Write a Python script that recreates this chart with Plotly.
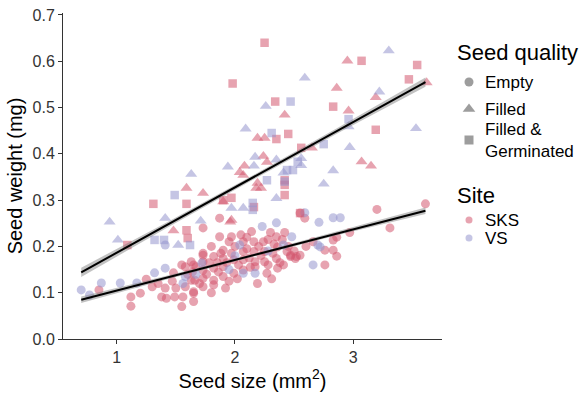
import plotly.graph_objects as go

# ---------------- data ----------------
# Empty seeds (circles)
sks_empty_x = [0.85, 1.12, 1.12, 1.20, 1.25, 1.30, 1.38, 1.41, 1.42, 1.48, 1.50, 1.49, 1.55, 1.58, 1.56, 1.55,
               1.63, 1.65, 1.63, 1.58, 1.67, 1.73, 1.65, 1.64, 1.66, 1.65, 1.65, 1.73, 1.73, 1.73, 1.73, 1.73,
               1.82, 1.82, 1.82, 1.82, 1.90, 1.90, 1.90, 1.90, 1.87, 1.97, 1.87, 1.73, 1.99, 1.99, 1.97,
               2.07, 2.07, 2.07, 2.07, 2.14, 2.16, 2.16, 2.17, 2.24, 2.25, 2.25, 2.27, 2.35, 2.36, 2.35, 2.36,
               2.44, 2.47, 2.52, 2.55, 2.55, 2.59, 2.66, 2.76, 2.83, 2.86, 2.76, 2.83, 2.86, 2.97, 3.20, 3.31,
               3.61, 2.17, 2.41, 2.47, 2.51, 2.20, 2.10, 2.30, 2.00, 1.95, 1.80, 1.78, 1.86, 1.95, 2.02, 2.12,
               2.32, 2.40, 2.28, 1.60, 1.70, 1.47, 1.35, 1.80, 1.92, 2.60, 2.19, 2.31,
               1.85, 1.88, 2.03, 2.10, 2.13, 2.22, 2.33, 2.38, 2.45, 2.50, 1.76, 1.93, 2.05, 2.28, 2.42]
sks_empty_y = [0.106, 0.091, 0.071, 0.099, 0.129, 0.113, 0.091, 0.110, 0.088, 0.143, 0.110, 0.091, 0.160, 0.113,
               0.091, 0.070, 0.127, 0.099, 0.167, 0.156, 0.156, 0.181, 0.160, 0.145, 0.127, 0.102, 0.081, 0.185,
               0.167, 0.149, 0.131, 0.113, 0.178, 0.153, 0.127, 0.117, 0.192, 0.174, 0.156, 0.135, 0.221, 0.221,
               0.261, 0.240, 0.171, 0.142, 0.185, 0.210, 0.189, 0.171, 0.149, 0.232, 0.210, 0.189, 0.167, 0.210,
               0.189, 0.167, 0.142, 0.221, 0.199, 0.174, 0.153, 0.189, 0.178, 0.178, 0.181, 0.272, 0.261, 0.210,
               0.192, 0.192, 0.179, 0.160, 0.214, 0.220, 0.230, 0.280, 0.240, 0.292, 0.156, 0.160, 0.181, 0.174,
               0.200, 0.220, 0.230, 0.200, 0.210, 0.200, 0.165, 0.145, 0.125, 0.130, 0.175, 0.185, 0.215, 0.160,
               0.140, 0.120, 0.125, 0.120, 0.100, 0.110, 0.200, 0.120, 0.130,
               0.165, 0.185, 0.160, 0.195, 0.155, 0.180, 0.205, 0.165, 0.200, 0.190, 0.140, 0.165, 0.225, 0.215,
               0.230]
vs_empty_x = [0.70, 0.77, 0.87, 1.03, 1.17, 1.32, 1.41, 1.41, 1.56, 1.58, 1.72, 1.67, 2.04, 2.07, 2.17, 2.23,
              2.35, 2.41, 2.48, 2.59, 2.66, 2.70, 2.71, 2.72, 2.83, 2.89, 2.00, 2.28, 1.95]
vs_empty_y = [0.106, 0.095, 0.121, 0.121, 0.121, 0.143, 0.153, 0.203, 0.120, 0.135, 0.164, 0.140, 0.203, 0.142,
              0.142, 0.243, 0.251, 0.203, 0.221, 0.273, 0.160, 0.203, 0.252, 0.199, 0.262, 0.262, 0.180, 0.190,
              0.150]

# Filled seeds (triangles)
sks_filled_x = [1.48, 1.59, 1.73, 1.90, 1.96, 2.04, 2.07, 2.08, 2.18, 2.22, 2.19, 2.19, 2.25, 2.24, 2.27, 2.42,
                2.65, 2.86, 2.95, 2.96, 3.07, 3.15, 3.19, 3.62, 1.97]
sks_filled_y = [0.234, 0.326, 0.315, 0.297, 0.253, 0.360, 0.354, 0.374, 0.326, 0.326, 0.337, 0.434, 0.434, 0.395,
                0.382, 0.484, 0.413, 0.542, 0.601, 0.493, 0.383, 0.374, 0.522, 0.554, 0.257]
vs_filled_x = [0.94, 1.01, 1.41, 1.52, 1.71, 1.63, 1.94, 1.97, 2.07, 2.09, 2.16, 2.17, 2.26, 2.35, 2.35, 2.41,
               2.56, 2.56, 2.59, 2.75, 2.83, 2.96, 2.97, 3.22, 3.30, 3.53]
vs_filled_y = [0.253, 0.214, 0.261, 0.203, 0.255, 0.356, 0.372, 0.283, 0.283, 0.454, 0.374, 0.393, 0.503, 0.304,
               0.387, 0.359, 0.390, 0.375, 0.564, 0.335, 0.364, 0.459, 0.414, 0.534, 0.623, 0.455]

# Filled & germinated seeds (squares)
sks_germ_x = [1.09, 1.31, 1.59, 1.59, 1.60, 1.97, 1.90, 2.16, 2.42, 2.42, 2.25, 1.98, 2.34, 2.35, 2.45, 2.56,
              2.42, 2.83, 3.07, 3.19, 3.47, 3.54, 2.55]
sks_germ_y = [0.203, 0.292, 0.292, 0.235, 0.218, 0.305, 0.300, 0.285, 0.333, 0.311, 0.640, 0.552, 0.513, 0.432,
              0.443, 0.413, 0.343, 0.502, 0.601, 0.452, 0.561, 0.592, 0.272]
vs_germ_x = [1.49, 1.32, 1.40, 1.62, 2.15, 2.15, 2.42, 2.31, 2.47, 2.44, 2.49, 2.53, 2.27, 2.75, 2.96]
vs_germ_y = [0.311, 0.214, 0.214, 0.203, 0.294, 0.279, 0.340, 0.445, 0.513, 0.365, 0.365, 0.383, 0.343, 0.421,
             0.475]

# Linear fits with standard-error band
fit_x = [0.70, 1.43, 2.16, 2.88, 3.61]
fit_upper = [0.144, 0.247, 0.350, 0.452, 0.555]
se_upper = [0.010, 0.006, 0.005, 0.006, 0.010]
fit_lower = [0.085, 0.133, 0.181, 0.229, 0.277]
se_lower = [0.007, 0.004, 0.003, 0.004, 0.007]

# Legend labels
quality_labels = ["Empty", "Filled", "Filled &<br>Germinated"]
site_labels = ["SKS", "VS"]
x_ticks = [1, 2, 3]
y_ticks = [0.0, 0.1, 0.2, 0.3, 0.4, 0.5, 0.6, 0.7]

# ---------------- styling ----------------
FONT = "Liberation Sans, Arial, sans-serif"
PINK = "rgba(212, 88, 112, 0.55)"
LAV = "rgba(150, 150, 205, 0.55)"
SYM = {"circle": 9, "triangle-up": 10.5, "square": 8.5}

fig = go.Figure()


def pts(x, y, color, symbol):
    fig.add_trace(go.Scatter(
        x=x, y=y, mode="markers", showlegend=False, hoverinfo="skip",
        marker=dict(color=color, symbol=symbol, size=SYM[symbol], line=dict(width=0)),
        xaxis="x", yaxis="y"))


pts(sks_empty_x, sks_empty_y, PINK, "circle")
pts(vs_empty_x, vs_empty_y, LAV, "circle")
pts(sks_filled_x, sks_filled_y, PINK, "triangle-up")
pts(vs_filled_x, vs_filled_y, LAV, "triangle-up")
pts(sks_germ_x, sks_germ_y, PINK, "square")
pts(vs_germ_x, vs_germ_y, LAV, "square")


def smooth(fit, se):
    lo = [f - s for f, s in zip(fit, se)]
    hi = [f + s for f, s in zip(fit, se)]
    fig.add_trace(go.Scatter(x=fit_x, y=lo, mode="lines", line=dict(width=0),
                             showlegend=False, hoverinfo="skip"))
    fig.add_trace(go.Scatter(x=fit_x, y=hi, mode="lines", line=dict(width=0), fill="tonexty",
                             fillcolor="rgba(120,120,120,0.45)", showlegend=False, hoverinfo="skip"))
    fig.add_trace(go.Scatter(x=fit_x, y=fit, mode="lines", line=dict(color="black", width=2),
                             showlegend=False, hoverinfo="skip"))


smooth(fit_upper, se_upper)
smooth(fit_lower, se_lower)

# ---------------- manual legend on a pixel-scaled helper axis ----------------
q_sym = ["circle", "triangle-up", "square"]
q_y = [82, 109, 140]
fig.add_trace(go.Scatter(x=[469] * 3, y=q_y, mode="markers", xaxis="x2", yaxis="y2",
                         showlegend=False, hoverinfo="skip",
                         marker=dict(symbol=q_sym, size=[9, 11, 9], color="rgba(90,90,90,0.85)",
                                     line=dict(width=0))))
s_y = [220, 238]
fig.add_trace(go.Scatter(x=[469] * 2, y=s_y, mode="markers", xaxis="x2", yaxis="y2",
                         showlegend=False, hoverinfo="skip",
                         marker=dict(symbol="circle", size=7, color=[PINK, LAV], line=dict(width=0))))

TS, IS = 22, 17
ann = []
ann.append(dict(x=455, y=52, text="Seed quality", font=dict(size=TS, color="black", family=FONT)))
ann.append(dict(x=483, y=82, text=quality_labels[0], font=dict(size=IS, color="black", family=FONT)))
ann.append(dict(x=483, y=109, text=quality_labels[1], font=dict(size=IS, color="black", family=FONT)))
ann.append(dict(x=483, y=140, text=quality_labels[2], font=dict(size=IS, color="black", family=FONT)))
ann.append(dict(x=455, y=195, text="Site", font=dict(size=TS, color="black", family=FONT)))
ann.append(dict(x=483, y=220, text=site_labels[0], font=dict(size=IS, color="black", family=FONT)))
ann.append(dict(x=483, y=238, text=site_labels[1], font=dict(size=IS, color="black", family=FONT)))
for a in ann:
    a.update(xref="x2", yref="y2", xanchor="left", yanchor="middle", showarrow=False, align="left")

W, H = 585, 394
L, R, T, B = 63, 0, 13, 55
panel_right = 442
dom = (panel_right - L) / (W - L - R)

fig.update_layout(
    width=W, height=H,
    margin=dict(l=L, r=R, t=T, b=B, pad=0),
    paper_bgcolor="white", plot_bgcolor="white",
    font=dict(family=FONT, color="black"),
    showlegend=False,
    annotations=ann,
    xaxis=dict(domain=[0, dom], range=[0.546, 3.75], tickvals=x_ticks, ticktext=[str(v) for v in x_ticks],
               ticks="outside", ticklen=4, tickwidth=1, tickcolor="#333333",
               showline=True, linecolor="#333333", linewidth=1, showgrid=False, zeroline=False,
               tickfont=dict(size=16, color="#333333", family=FONT),
               title=dict(text="Seed size (mm<sup>2</sup>)", font=dict(size=20, color="black", family=FONT),
                          standoff=6),
               anchor="y", fixedrange=True),
    yaxis=dict(domain=[0, 1], range=[0, 0.7043], tickvals=y_ticks, ticktext=[f"{v:.1f}" for v in y_ticks],
               ticks="outside", ticklen=4, tickwidth=1, tickcolor="#333333",
               showline=True, linecolor="#333333", linewidth=1, showgrid=False, zeroline=False,
               tickfont=dict(size=16, color="#333333", family=FONT),
               title=dict(text="Seed weight (mg)", font=dict(size=20, color="black", family=FONT),
                          standoff=4),
               anchor="x", fixedrange=True),
    xaxis2=dict(domain=[dom, 1], range=[panel_right, W], visible=False, anchor="y2", fixedrange=True),
    yaxis2=dict(domain=[0, 1], range=[H - B, T], visible=False, anchor="x2", fixedrange=True),
)

fig.write_html("out.html", config={"displayModeBar": False})
